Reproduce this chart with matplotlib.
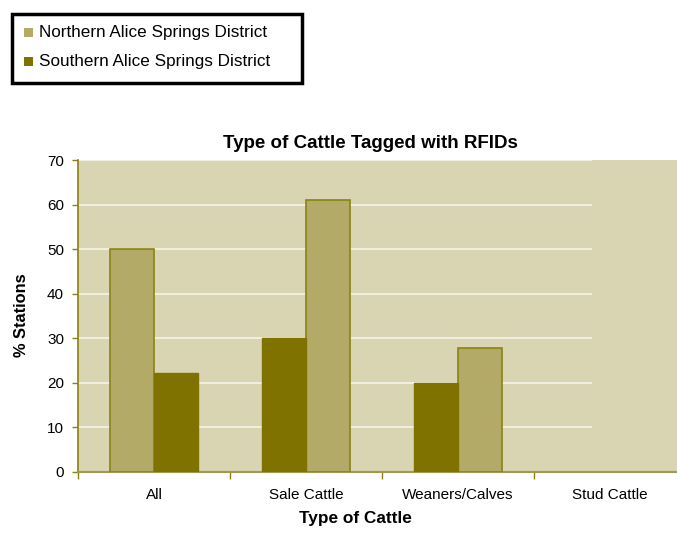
import numpy as np
import matplotlib.pyplot as plt
from matplotlib.patches import Rectangle

plt.rcParams['font.family'] = ['Liberation Sans', 'DejaVu Sans']

# данные
categories = ['All', 'Sale Cattle', 'Weaners/Calves', 'Stud Cattle']
series_names = ['Northern Alice Springs District', 'Southern Alice Springs District']
northern = [50, 61.1, 27.8, 0]
southern = [22.2, 30, 20, 0]
# в первой группе северный район идёт первым, в остальных - вторым
northern_first = [True, False, False, False]

c_north = '#b2aa66'
c_south = '#7f7200'
c_edge = '#8a8214'
c_bg = '#d9d4b2'

W, H = 677, 535
fig = plt.figure(figsize=(W / 100, H / 100), dpi=100)
# область графика уходит за правый край рисунка
ax = fig.add_axes([78 / W, 1 - 471.7 / H, 608 / W, 311.7 / H])
ax.set_facecolor(c_bg)

x = np.arange(len(categories))
w = 0.287
for i in range(len(categories)):
    if northern_first[i]:
        xn, xs = x[i] - w / 2, x[i] + w / 2
    else:
        xn, xs = x[i] + w / 2, x[i] - w / 2
    if northern[i] > 0:
        ax.bar(xn, northern[i], w, color=c_north, edgecolor=c_edge, linewidth=1.2, zorder=3)
    if southern[i] > 0:
        ax.bar(xs, southern[i], w, color=c_south, edgecolor=c_south, linewidth=1, zorder=3)

ax.set_xlim(-0.5, 3.5)
ax.set_ylim(0, 70)

# линии сетки обрываются раньше правого края
for y in range(10, 71, 10):
    ax.hlines(y, -0.5, 2.88, color='#f3f1e6', linewidth=1.3, zorder=1)

ax.set_yticks(range(0, 71, 10))
ax.set_xticks(x)
ax.set_xticklabels(categories, fontsize=11)
ax.set_xticks(np.arange(-0.5, 3.6, 1), minor=True)
ax.tick_params(axis='x', which='major', length=0, pad=12)
ax.tick_params(axis='x', which='minor', length=5, color=c_edge, width=1)
ax.tick_params(axis='y', length=4, color=c_edge, width=1, labelsize=11, pad=6)

for s in ['top', 'right']:
    ax.spines[s].set_visible(False)
ax.spines['left'].set_color(c_edge)
ax.spines['bottom'].set_color('#a09a50')
ax.spines['left'].set_linewidth(1.2)
ax.spines['bottom'].set_linewidth(1.5)

fig.text(370 / W, 1 - 143 / H, 'Type of Cattle Tagged with RFIDs',
         ha='center', va='center', fontsize=13.5, fontweight='bold')
fig.text(355 / W, 1 - 519 / H, 'Type of Cattle',
         ha='center', va='center', fontsize=12.4, fontweight='bold')
fig.text(21.5 / W, 1 - 315 / H, '% Stations', rotation=90,
         ha='center', va='center', fontsize=11.8, fontweight='bold')

# легенда вручную: рамка, квадраты и подписи
fig.patches.append(Rectangle((12 / W, 1 - 83 / H), 290 / W, 69 / H,
                             transform=fig.transFigure, facecolor='white',
                             edgecolor='black', linewidth=2.5))
for k, (name, col) in enumerate(zip(series_names, [c_north, c_south])):
    yc = 32.5 + 29 * k
    fig.patches.append(Rectangle((24 / W, 1 - (yc + 4.5) / H), 9 / W, 9 / H,
                                 transform=fig.transFigure, facecolor=col,
                                 edgecolor='none'))
    fig.text(39 / W, 1 - yc / H, name, ha='left', va='center', fontsize=12.3)

fig.savefig('out.png', dpi=100)
